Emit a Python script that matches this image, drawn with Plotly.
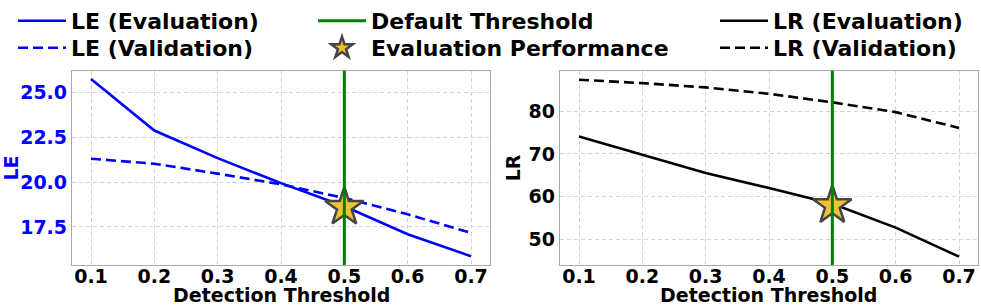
import plotly.graph_objects as go

thresholds = [0.1, 0.2, 0.3, 0.4, 0.5, 0.6, 0.7]
le_eval = [25.74, 22.87, 21.33, 19.94, 18.65, 17.09, 15.87]
le_val = [21.30, 21.02, 20.47, 19.87, 19.11, 18.20, 17.17]
lr_eval = [74.1, 69.8, 65.5, 62.0, 58.3, 52.7, 45.9]
lr_val = [87.4, 86.6, 85.6, 84.1, 82.1, 79.8, 76.1]
default_threshold = 0.5
le_star = 18.6
lr_star = 57.9
x_title = "Detection Threshold"

FONT = "DejaVu Sans"
TICK = dict(family=FONT, size=19, color="black", weight="bold")
TITLE = dict(family=FONT, size=19, color="black", weight="bold")
LEG = dict(family=FONT, size=22, color="black", weight="bold")

fig = go.Figure()

def add_line(x, y, name, color, dash, xa, ya, legend):
    fig.add_trace(go.Scatter(
        x=x, y=y, mode="lines", name=name,
        line=dict(color=color, width=2.6, dash=dash),
        xaxis=xa, yaxis=ya, legend=legend,
    ))

add_line(thresholds, le_eval, "LE (Evaluation)", "#0000ff", "solid", "x", "y", "legend")
add_line(thresholds, le_val, "LE (Validation)", "#0000ff", "10px,5px", "x", "y", "legend2")
add_line(thresholds, lr_eval, "LR (Evaluation)", "black", "solid", "x2", "y2", "legend5")
add_line(thresholds, lr_val, "LR (Validation)", "black", "10px,5px", "x2", "y2", "legend6")

# Default threshold vertical lines
for i, (xr, yr) in enumerate([("x", "y domain"), ("x2", "y2 domain")]):
    fig.add_shape(type="line", xref=xr, yref=yr,
                  x0=default_threshold, x1=default_threshold, y0=0, y1=1,
                  line=dict(color="#008000", width=3), layer="above",
                  showlegend=(i == 0), name="Default Threshold",
                  legend="legend3")

star_style = dict(symbol="star", size=29, color="#f2c12e",
                  line=dict(color="#454545", width=2.5))
fig.add_trace(go.Scatter(x=[default_threshold], y=[le_star], mode="markers",
                         marker=star_style, name="Evaluation Performance",
                         xaxis="x", yaxis="y", legend="legend4"))
fig.add_trace(go.Scatter(x=[default_threshold], y=[lr_star], mode="markers",
                         marker=star_style, name="Evaluation Performance",
                         xaxis="x2", yaxis="y2", showlegend=False))

W, H = 981, 308
axcommon = dict(showgrid=True, gridcolor="#d4d4d4", griddash="4px,3px", gridwidth=1,
                showline=True, linecolor="#a8a8a8", linewidth=1.3, mirror=True,
                ticks="", zeroline=False, automargin=False)

xticks = dict(tickmode="array", tickvals=thresholds,
              ticktext=[f"{t:.1f}" for t in thresholds], ticklabelstandoff=-6)

dom1 = [72 / W, 490 / W]
dom2 = [560 / W, 978 / W]
fig.update_layout(
    width=W, height=H,
    margin=dict(l=0, r=0, t=0, b=0),
    paper_bgcolor="white", plot_bgcolor="white",
    font=dict(family=FONT, size=18, color="black"),
    xaxis=dict(domain=dom1, range=[0.07, 0.73], anchor="y",
               tickfont=TICK, **xticks, **axcommon),
    yaxis=dict(domain=[1 - 265 / H, 1 - 70 / H], range=[15.37, 26.2], anchor="x",
               tickvals=[17.5, 20.0, 22.5, 25.0], ticktext=["17.5", "20.0", "22.5", "25.0"],
               tickfont=dict(TICK, color="#0000ff"),
               title=dict(text="LE", font=dict(TITLE, color="#0000ff"), standoff=2),
               **axcommon),
    xaxis2=dict(domain=dom2, range=[0.07, 0.73], anchor="y2",
                tickfont=TICK, **xticks, **axcommon),
    yaxis2=dict(domain=[1 - 265 / H, 1 - 70 / H], range=[43.9, 89.5], anchor="x2",
                tickvals=[50, 60, 70, 80],
                tickfont=TICK, title=dict(text="LR", font=TITLE, standoff=2),
                **axcommon),
)

# x-axis titles placed under each panel
for dom in (dom1, dom2):
    fig.add_annotation(text=x_title, font=TITLE, showarrow=False,
                       xref="paper", yref="paper", x=(dom[0] + dom[1]) / 2, y=0,
                       xanchor="center", yanchor="bottom", yshift=0)

leg_common = dict(orientation="v", yanchor="middle", xanchor="left",
                  font=LEG, bgcolor="rgba(0,0,0,0)", tracegroupgap=0, itemwidth=48)
row1, row2 = 1 - 20 / H, 1 - 48 / H
col1, col2, col3 = 13 / W, 313 / W, 715 / W
fig.update_layout(
    legend=dict(x=col1, y=row1, **leg_common),
    legend2=dict(x=col1, y=row2, **leg_common),
    legend3=dict(x=col2, y=row1, **leg_common),
    legend4=dict(x=col2, y=row2, **leg_common),
    legend5=dict(x=col3, y=row1, **leg_common),
    legend6=dict(x=col3, y=row2, **leg_common),
)

fig.write_html("out.html", config={"displayModeBar": False})

# remove the browser's default body margin so the figure sits at the page origin
with open("out.html", "r", encoding="utf-8") as f:
    html = f.read()
html = html.replace("<body>", '<body style="margin:0;overflow:hidden">', 1)
with open("out.html", "w", encoding="utf-8") as f:
    f.write(html)
